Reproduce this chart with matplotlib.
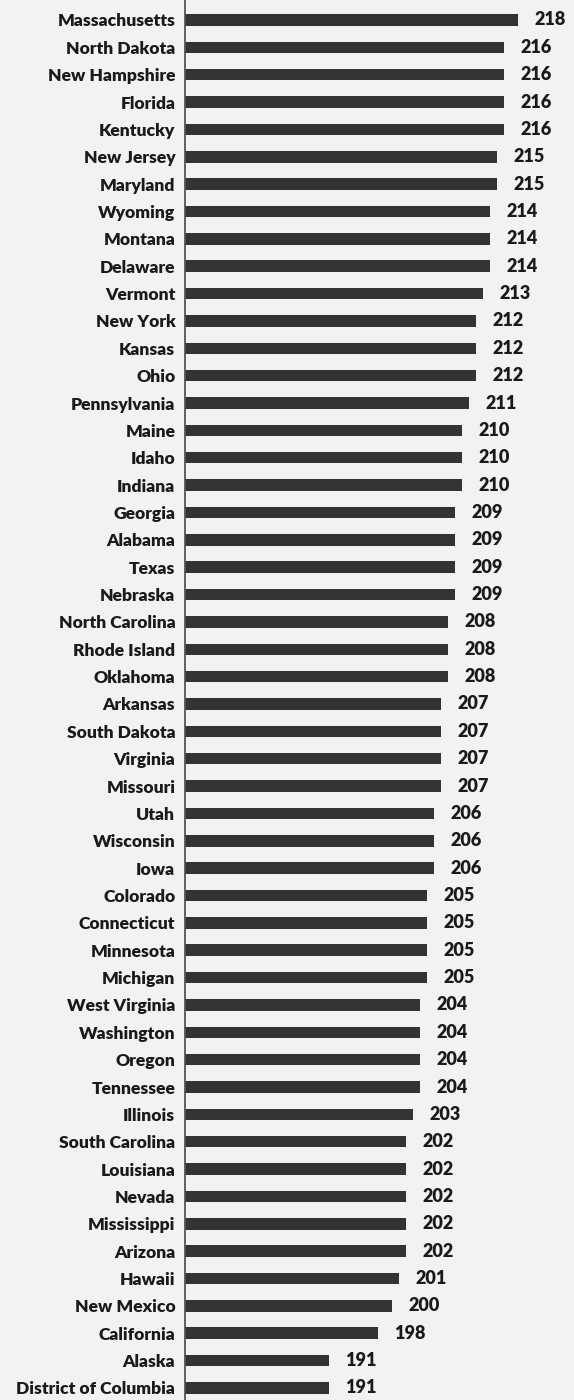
import matplotlib
matplotlib.use("Agg")
import matplotlib.pyplot as plt

states = ["Massachusetts", "North Dakota", "New Hampshire", "Florida", "Kentucky",
          "New Jersey", "Maryland", "Wyoming", "Montana", "Delaware", "Vermont",
          "New York", "Kansas", "Ohio", "Pennsylvania", "Maine", "Idaho", "Indiana",
          "Georgia", "Alabama", "Texas", "Nebraska", "North Carolina", "Rhode Island",
          "Oklahoma", "Arkansas", "South Dakota", "Virginia", "Missouri", "Utah",
          "Wisconsin", "Iowa", "Colorado", "Connecticut", "Minnesota", "Michigan",
          "West Virginia", "Washington", "Oregon", "Tennessee", "Illinois",
          "South Carolina", "Louisiana", "Nevada", "Mississippi", "Arizona", "Hawaii",
          "New Mexico", "California", "Alaska", "District of Columbia"]
scores = [218, 216, 216, 216, 216, 215, 215, 214, 214, 214, 213, 212, 212, 212, 211,
          210, 210, 210, 209, 209, 209, 209, 208, 208, 208, 207, 207, 207, 207, 206,
          206, 206, 205, 205, 205, 205, 204, 204, 204, 204, 203, 202, 202, 202, 202,
          202, 201, 200, 198, 191, 191]

W, H = 574, 1400
BG = "#f2f2f0"
fig = plt.figure(figsize=(W / 100, H / 100), dpi=100)
fig.patch.set_facecolor(BG)
x0 = 185
left = x0 / W
ax = fig.add_axes([left, 0, 1 - left, 1])
ax.set_facecolor(BG)

ypos = list(range(len(states)))
ax.barh(ypos, scores, height=0.42, color="#333333")
ppu = 7.0
ax.set_xlim(170.4, 170.4 + (W - x0) / ppu)
ax.set_ylim(50.44, -0.73)

ax.set_yticks(ypos)
ax.set_yticklabels(states, fontsize=12.6, fontweight="heavy", family="Lato",
                   color="#1a1a1a")
ax.tick_params(axis="y", length=0, pad=7)
ax.set_xticks([])
for s in ["top", "right", "bottom"]:
    ax.spines[s].set_visible(False)
ax.spines["left"].set_color("#555555")
ax.spines["left"].set_linewidth(1.3)

for y, v in zip(ypos, scores):
    ax.annotate(str(v), xy=(v, y), xytext=(11.5, 0), textcoords="offset points",
                ha="left", va="center", fontsize=13, fontweight="heavy",
                family="Lato", color="#1a1a1a")

fig.savefig("out.png", dpi=100, facecolor=fig.get_facecolor())
